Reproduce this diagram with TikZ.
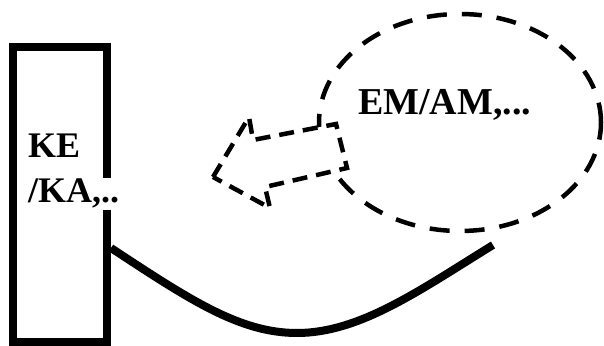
\documentclass[tikz,border=0pt]{standalone}
\usepackage{fontspec}
\setmainfont{Liberation Serif}
\usetikzlibrary{shapes.geometric}
\tikzset{
  cadre/.style={rectangle, draw=black, line width=8pt, minimum width=94pt,
    minimum height=294pt, inner sep=0pt},
  bulle/.style={ellipse, draw=black, line width=4.5pt,
    dash pattern=on 20pt off 15pt, minimum width=282pt, minimum height=217pt,
    inner sep=0pt},
  texte/.style={font=\fontsize{36}{40}\selectfont\bfseries, inner sep=1pt,
    anchor=base west},
  fleche/.style={draw=black, fill=white, line width=4.5pt,
    dash pattern=on 15pt off 9pt, line join=miter},
  lien/.style={draw=black, line width=8pt}
}
\begin{document}
\begin{tikzpicture}[x=1pt, y=1pt]
    \useasboundingbox (0,0) rectangle (604,345);

    \node[cadre] (cadre) at (60,150.5) {};
    \node[bulle] (bulle) at (460,222.5) {};

    % texts
    \node[texte] (ke) at (27,187) {KE};
    \node[texte, fill=white] (ka) at (27,142) {/KA,..};
    \node[texte, font=\fontsize{38}{42}\selectfont\bfseries] (em) at (357,230) {EM/AM,...};

    % block arrow, pointing left
    \draw[fleche] (213,168) -- (249,228) -- (253,205) -- (336,221)
      -- (347,177) -- (265,158) -- (270,137) -- cycle;

    % link from the box
    \coordinate (depart) at ([yshift=-53.5pt]cadre.east);
    \coordinate (creux) at (297,12);
    \coordinate (fin) at (493,100);
    \draw[lien] (depart) .. controls (190,45) and (240,12) .. (creux)
      .. controls (360,12) and (420,55) .. (fin);
\end{tikzpicture}
\end{document}
